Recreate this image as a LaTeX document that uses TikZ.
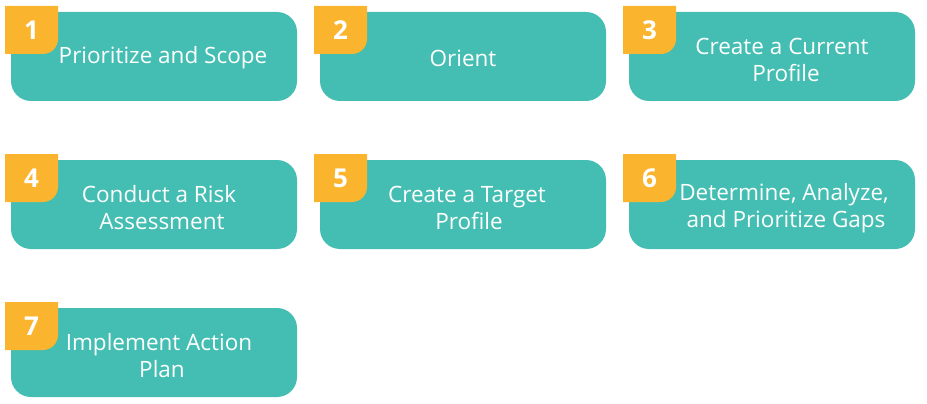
\documentclass[tikz,border=0pt]{standalone}
\usepackage{fontspec}
\setmainfont{Open Sans}
\usetikzlibrary{positioning}
\definecolor{stepteal}{HTML}{44BEB2}
\definecolor{stepgold}{HTML}{FBB42D}

\begin{document}
\begin{tikzpicture}[
        x=1pt,y=1pt,
        stepbox/.style={rectangle,rounded corners=20pt,minimum width=286pt,minimum height=89pt,
          inner sep=0pt,fill=stepteal,text=white,align=center,
          font=\fontsize{22.5}{27}\selectfont},
        badge/.style={rectangle,minimum width=53pt,minimum height=48pt,inner sep=0pt,
          text=white,font=\fontsize{26}{28}\selectfont\bfseries,
          path picture={\fill[stepgold] (path picture bounding box.north west)
            -- (path picture bounding box.north east)
            -- ([yshift=15pt]path picture bounding box.south east)
            arc[start angle=0,end angle=-90,radius=15pt]
            -- (path picture bounding box.south west) -- cycle;}}
      ]
        \useasboundingbox (0,0) rectangle (927,-404);

        \node[stepbox] (prioritize) at (154,-56.5) {\rule{0pt}{20pt}\hspace*{18pt}Prioritize and Scope};
        \node[stepbox] (orient) at (463,-56.5) {\rule{0pt}{20pt}Orient};
        \node[stepbox] (current) at (772,-56.5) {\rule{0pt}{24pt}\hspace*{20pt}Create a Current\\\hspace*{28pt}Profile};
        \node[stepbox] (risk) at (154,-204.5) {\rule{0pt}{24pt}\hspace*{10pt}Conduct a Risk\\\hspace*{16pt}Assessment};
        \node[stepbox] (target) at (463,-204.5) {\rule{0pt}{24pt}\hspace*{8pt}Create a Target\\\hspace*{12pt}Profile};
        \node[stepbox] (gaps) at (772,-204.5) {\rule{0pt}{24pt}\hspace*{24pt}Determine, Analyze,\\\hspace*{28pt}and Prioritize Gaps};
        \node[stepbox] (plan) at (154,-352.5) {\rule{0pt}{24pt}\hspace*{10pt}Implement Action\\\hspace*{16pt}Plan};

        \node[badge] (num1) at (31.5,-30) {1};
        \node[badge] (num2) at (340.5,-30) {2};
        \node[badge] (num3) at (649.5,-30) {3};
        \node[badge] (num4) at (31.5,-178) {4};
        \node[badge] (num5) at (340.5,-178) {5};
        \node[badge] (num6) at (649.5,-178) {6};
        \node[badge] (num7) at (31.5,-326) {7};
      \end{tikzpicture}
\end{document}
